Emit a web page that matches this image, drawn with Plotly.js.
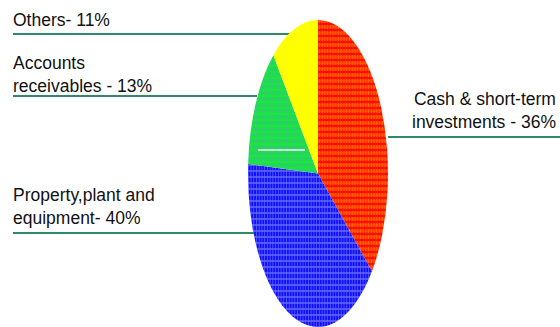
<!DOCTYPE html>
<html>
<head>
<meta charset="utf-8">
<script src="https://cdn.plot.ly/plotly-3.0.1.min.js"></script>
<style>html,body{margin:0;padding:0;background:#fff;}#chart{width:560px;height:327px;}</style>
</head>
<body>
<div id="chart"></div>
<script>
// ---- data ----
var labels = ["Cash & short-term investments", "Property, plant and equipment", "Accounts receivables", "Others"];
var values = [36, 40, 13, 11];
var labelTexts = ["Cash & short-term<br>investments - 36%", "Property,plant and<br>equipment- 40%", "Accounts<br>receivables - 13%", "Others- 11%"];
var bgColors = ["#ff0a00", "#1010ff", "#18e838", "#ffff00"];
var fgColors = ["#ffc800", "#b8c0ff", "#4aa8b8", "#ffff00"];
var shapes = [".", "+", ".", ""];

// ---- layout helpers (positions) ----
var W = 560, H = 327;
function px(x){ return x / W; }
function py(y){ return 1 - y / H; }

var lineColor = "#2f8a6a";
// label anchor positions [x, y, xanchor] and leader lines [x0, x1, y]
var labelPos = [[558, 111, "right"], [11, 206, "left"], [11, 74, "left"], [11, 20, "left"]];
var leaders = [[388, 560, 137], [13, 255, 233], [13, 257, 96], [13, 290, 34]];

var annotations = labelTexts.map(function(t, i){
  return {
    text: t, x: px(labelPos[i][0]), y: py(labelPos[i][1]),
    xref: "paper", yref: "paper", xanchor: labelPos[i][2], yanchor: "middle",
    align: labelPos[i][2], showarrow: false,
    font: {family: "Liberation Sans, Arial, sans-serif", size: 17.5, color: "#111"}
  };
});
var shp = leaders.map(function(l){
  return {type: "line", xref: "paper", yref: "paper",
    x0: px(l[0]), x1: px(l[1]), y0: py(l[2]), y1: py(l[2]),
    line: {color: lineColor, width: 2}, layer: "below"};
});
// white streak inside the green slice
shp.push({type: "line", xref: "paper", yref: "paper", x0: px(258), x1: px(305), y0: py(150), y1: py(150), line: {color: "#ffffff", width: 1.5}, layer: "above"});

var cx = 318;
var trace = {
  type: "pie",
  labels: labels,
  values: values,
  sort: false,
  direction: "clockwise",
  rotation: 0,
  textinfo: "none",
  hoverinfo: "none",
  showlegend: false,
  domain: {x: [px(cx - 160), px(cx + 160)], y: [0, py(20)]},
  marker: {
    colors: bgColors,
    line: {width: 0},
    pattern: {shape: shapes, fgcolor: fgColors, bgcolor: bgColors, size: 6, solidity: 0.45, fillmode: "overlay"}
  }
};

var layout = {
  width: W, height: H,
  margin: {l: 0, r: 0, t: 0, b: 0},
  paper_bgcolor: "#ffffff",
  plot_bgcolor: "#ffffff",
  annotations: annotations,
  shapes: shp
};

Plotly.newPlot("chart", [trace], layout, {staticPlot: true}).then(function(gd){
  // squeeze the pie horizontally into an ellipse
  var sx = 70 / 153.5;
  var g = gd.querySelector(".pielayer");
  if (g) g.setAttribute("transform", "translate(" + cx + ",0) scale(" + sx + ",1) translate(" + (-cx) + ",0)");
});
</script>
</body>
</html>
